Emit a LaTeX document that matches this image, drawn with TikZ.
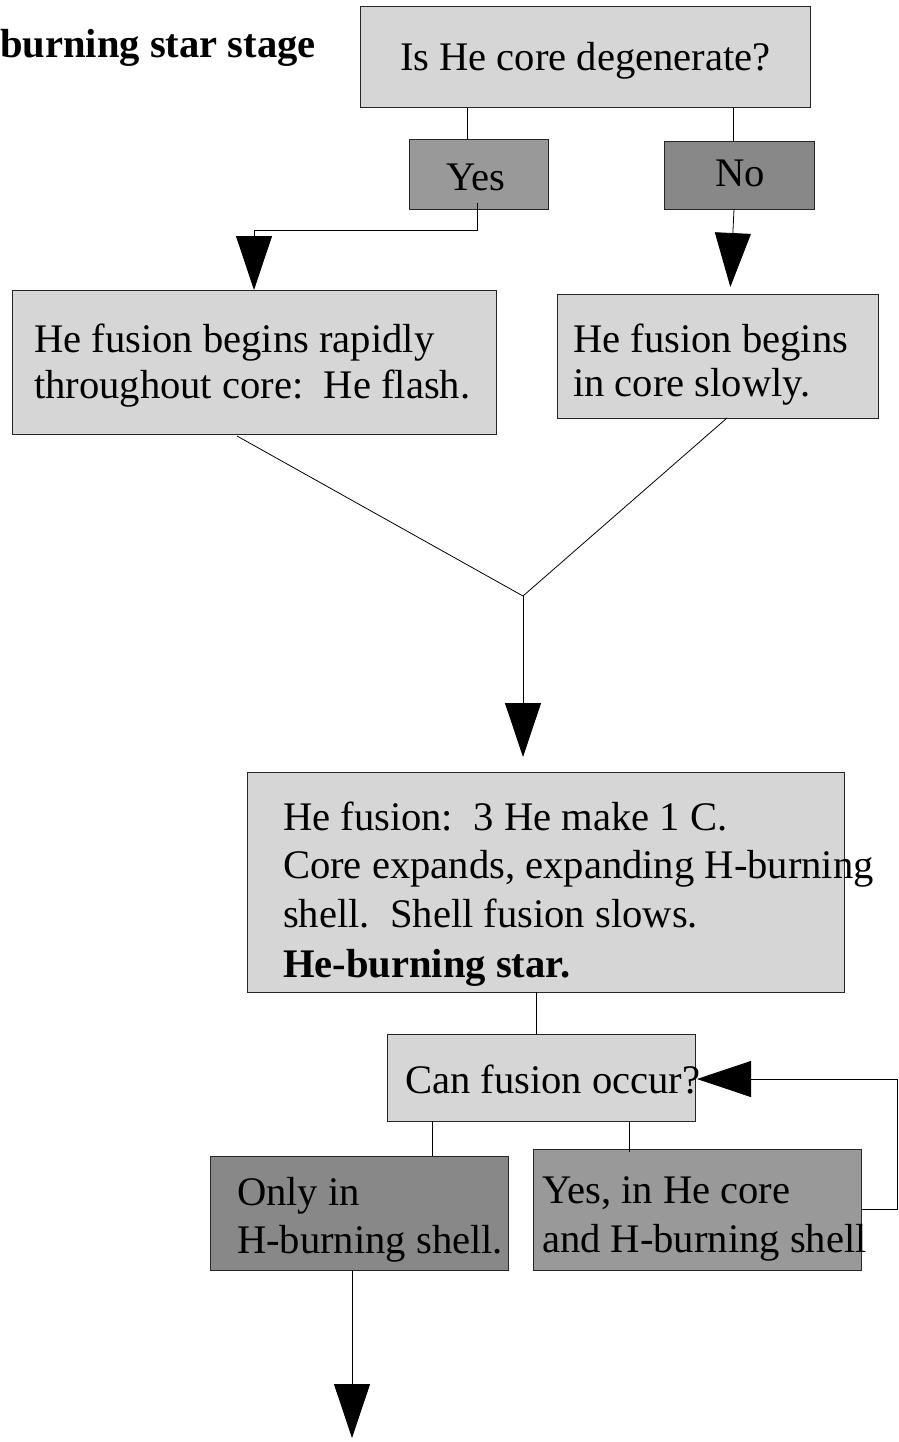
\documentclass[tikz,border=0pt]{standalone}
\usepackage{fontspec}
\setmainfont{Liberation Serif}
\usetikzlibrary{arrows.meta,calc}
\definecolor{boxlight}{RGB}{214,214,214}
\definecolor{boxmid}{RGB}{153,153,153}
\definecolor{boxdark}{RGB}{136,136,136}
\tikzset{
  box/.style={draw=black!85, line width=1pt, inner sep=0pt, outer sep=0pt, anchor=north west},
  lightbox/.style={box, fill=boxlight},
  midbox/.style={box, fill=boxmid},
  darkbox/.style={box, fill=boxdark},
  txt/.style={anchor=base west, inner sep=0pt, outer sep=0pt, font=\fontsize{40.6}{48}\selectfont},
  conn/.style={draw=black, line width=0.8pt},
  arr/.style={conn, -{Triangle[length=54pt,width=36pt,fill=black]}}
}
\begin{document}
\begin{tikzpicture}[x=1pt,y=-1pt]
\useasboundingbox (0,0) rectangle (898,1442);
% title
\node[txt, font=\fontsize{40.6}{48}\selectfont\bfseries] (title) at (0,58) {burning star stage};
% boxes
\node[lightbox, minimum width=450pt, minimum height=101pt] (q) at (360,7) {};
\node[txt] (qt) at (400,71) {Is He core degenerate?};
\node[midbox, minimum width=139pt, minimum height=69pt] (yes) at (409,140) {};
\node[txt] (yest) at (446,190) {Yes};
\node[darkbox, minimum width=150pt, minimum height=67pt] (no) at (664,142) {};
\node[txt] (not) at (715,187) {No};
\node[lightbox, minimum width=484pt, minimum height=144pt] (L) at (12,290) {};
\node[txt] (Lt1) at (34,352) {He fusion begins rapidly};
\node[txt] (Lt2) at (34,398) {throughout core:\ \ He flash.};
\node[lightbox, minimum width=321pt, minimum height=124pt] (R) at (557,294) {};
\node[txt] (Rt1) at (573,352) {He fusion begins};
\node[txt] (Rt2) at (573,396) {in core slowly.};
\node[lightbox, minimum width=597pt, minimum height=220pt] (M) at (247,772) {};
\node[txt] (Mt1) at (283,830) {He fusion:\ \ 3 He make 1 C.};
\node[txt] (Mt2) at (283,878) {Core expands, expanding H-burning};
\node[txt] (Mt3) at (283,927) {shell.\ \ Shell fusion slows.};
\node[txt, font=\fontsize{40.6}{48}\selectfont\bfseries] (Mt4) at (283,977) {He-burning star.};
\node[lightbox, minimum width=308pt, minimum height=87pt] (can) at (387,1034) {};
\node[txt] (cant) at (405,1093) {Can fusion occur?};
\node[darkbox, minimum width=298pt, minimum height=114pt] (only) at (210,1156) {};
\node[txt] (onlyt1) at (237,1205) {Only in};
\node[txt] (onlyt2) at (237,1253) {H-burning shell.};
\node[midbox, minimum width=328pt, minimum height=121pt] (yes2) at (533,1149) {};
\node[txt] (yes2t1) at (542,1203) {Yes, in He core};
\node[txt] (yes2t2) at (542,1252) {and H-burning shell};
% helper coordinates
\coordinate (xqy) at (467,0);
\coordinate (xqn) at (733,0);
\coordinate (xyd) at (477,203);
\coordinate (yb) at (477,230);
\coordinate (ya) at (254,230);
\coordinate (nd) at (734,0);
\coordinate (na) at (730,0);
\coordinate (xl) at (237,0);
\coordinate (xr) at (727,0);
\coordinate (j) at (523,596);
\coordinate (xm) at (536,0);
\coordinate (xo) at (432,0);
\coordinate (xy2) at (629,0);
\coordinate (ly) at (0,1209);
\coordinate (lr1) at (897,1209);
\coordinate (lr2) at (897,1079);
\coordinate (lc) at (0,1079);
\coordinate (xe) at (352,0);
\coordinate (endarrow) at (352,1438);
% connectors
\draw[conn] (q.south -| xqy) -- (yes.north -| xqy);
\draw[conn] (q.south -| xqn) -- (no.north -| xqn);
\draw[arr] (xyd) -- (yb) -- (ya) -- (L.north -| ya);
\draw[arr, shorten >=7pt] (no.south -| nd) -- (R.north -| na);
\draw[conn] ($(L.south -| xl)+(0,2)$) -- (j);
\draw[conn] (R.south -| xr) -- (j);
\draw[arr, shorten >=15pt] (j) -- (M.north -| j);
\draw[conn] (M.south -| xm) -- (can.north -| xm);
\draw[conn] (can.south -| xo) -- (only.north -| xo);
\draw[conn] (can.south -| xy2) -- ($(yes2.north -| xy2)+(0,3)$);
\draw[arr] (yes2.east |- ly) -- (lr1) -- (lr2) -- ($(can.east |- lc)+(2,0)$);
\draw[arr] (only.south -| xe) -- (endarrow);
\end{tikzpicture}
\end{document}
